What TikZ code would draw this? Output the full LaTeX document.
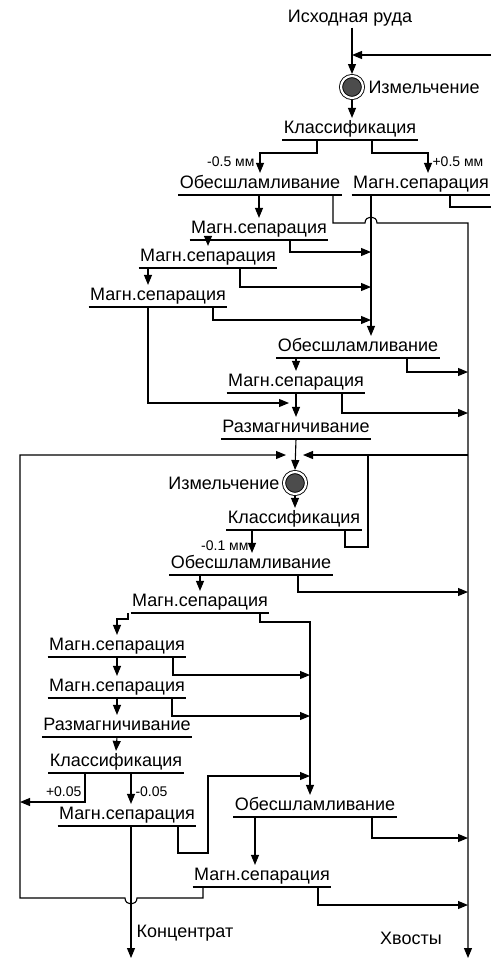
\documentclass[tikz,border=0pt]{standalone}
\usepackage{fontspec}
\setmainfont{Liberation Sans}
\usetikzlibrary{arrows.meta,positioning}

\begin{document}
\begin{tikzpicture}[->,>={Triangle[length=10pt,width=8pt]},x=1pt,y=-1pt,line width=1.1pt,
                    text node/.style={font=\fontsize{18}{21}\selectfont,inner sep=1pt},
                    size label/.style={font=\fontsize{14}{16}\selectfont,inner sep=1pt},
                    proc node/.style={text node,anchor=south,inner ysep=2pt,text height=13pt,text depth=4pt,
                      append after command={(\tikzlastnode.south west) edge[-,line width=1.5pt] (\tikzlastnode.south east)}},
                    mill node/.style={circle,draw,double,double distance=2.2pt,fill=black!70,
                      minimum size=22pt,inner sep=0pt,line width=0.9pt,outer sep=2pt}]

  \useasboundingbox (0,0) rectangle (491,964);
  \clip (0,0) rectangle (491,964);

  % first stage
  \node[text node] (A) at (350,18) {Исходная руда};
  \node[mill node] (1) at (352,87) {};
  \node[text node,right=2pt of 1] (B) {Измельчение};
  \node[proc node] (2) at (350,140) {Классификация};
  \node[proc node] (3) at (260,195) {Обесшламливание};
  \node[proc node] (4) at (421,195) {Магн.сепарация};
  \node[proc node] (5) at (259,240) {Магн.сепарация};
  \node[proc node] (6) at (208,268) {Магн.сепарация};
  \node[proc node] (7) at (158,307) {Магн.сепарация};
  \node[proc node] (8) at (358,358) {Обесшламливание};
  \node[proc node] (9) at (296,393) {Магн.сепарация};
  \node[proc node] (10) at (296,439) {Размагничивание};

  % second stage
  \node[mill node] (11) at (295,483) {};
  \node[text node,left=1pt of 11] (C) {Измельчение};
  \node[proc node] (12) at (294,530) {Классификация};
  \node[proc node] (13) at (251,575) {Обесшламливание};
  \node[proc node] (14) at (200,613) {Магн.сепарация};
  \node[proc node] (15) at (117,657) {Магн.сепарация};
  \node[proc node] (16) at (117,698) {Магн.сепарация};
  \node[proc node] (17) at (117,737) {Размагничивание};
  \node[proc node] (18) at (116,773) {Классификация};
  \node[proc node] (19) at (127,826) {Магн.сепарация};
  \node[proc node] (20) at (315,817) {Обесшламливание};
  \node[proc node] (21) at (262,887) {Магн.сепарация};

  \node[size label,anchor=north east] (D) at (256,155) {-0.5 мм};
  \node[size label,anchor=north west] (E) at (431,155) {+0.5 мм};
  \node[size label,anchor=east] (F) at (250,546) {-0.1 мм};
  \node[size label,anchor=east] (G) at (83,792) {+0.05};
  \node[size label,anchor=west] (H) at (134,792) {-0.05};
  \node[text node] (K) at (185,933) {Концентрат};
  \node[text node] (L) at (411,938) {Хвосты};

  \coordinate (R1) at (491,55);
  \coordinate (R2) at (491,207);
  \coordinate (C1) at (371,0);
  \coordinate (C2) at (310,0);
  \coordinate (T1) at (468,223);
  \coordinate (T2) at (468,958);
  \coordinate (J) at (295,455);
  \coordinate (L2) at (20,898);
  \coordinate (K1) at (131,958);

  % first stage flows
  \draw (A.south -| 1) -- (1.north);
  \draw (R1) -- (R1 -| 1);
  \path (1) edge (2.north -| 1);
  \draw (2.south -| 317,0) -- ++(0,13) -| (3.north);
  \draw (2.south -| 372,0) -- ++(0,13) -| (4.north -| 428,0);
  \draw (3.south -| 333,0) -- ++(0,28) -- (365,223) .. controls (365,215) and (377,215) .. (377,223) -- (T1) -- (T2);
  \draw (4.south -| C1) -- (8.north -| C1);
  \draw[-] (4.south -| 450,0) -- ++(0,12) -- (R2);
  \path (3.south -| 5.north) edge (5.north)
        (5.south -| 6.north) edge (6.north)
        (6.south -| 148,0) edge (7.north -| 148,0)
        (8.south -| 9.north) edge (9.north)
        (9.south) edge (10.north)
        (10.south) edge (11.north);
  \draw (5.south -| 290,0) |- ([yshift=-12pt]5.south -| C1);
  \draw (6.south -| 240,0) |- ([yshift=-19pt]6.south -| C1);
  \draw (7.south -| 213,0) |- ([yshift=-13pt]7.south -| C1);
  \draw (7.south -| 148,0) |- ([yshift=-96pt]7.south -| 289,0);
  \draw (8.south -| 407,0) |- ([yshift=-14pt]8.south -| T1);
  \draw (9.south -| 342,0) |- ([yshift=-20pt]9.south -| T1);

  % second stage flows
  \draw (J -| T1) -- ([xshift=8pt]J);
  \path (11) edge (12.north -| 11)
        (12.south -| 252,0) edge (13.north -| 252,0)
        (13.south -| 200,0) edge (14.north -| 200,0)
        (15.south) edge (16.north)
        (16.south) edge (17.north)
        (17.south) edge (18.north)
        (18.south -| K1) edge (19.north -| K1)
        (20.south -| 255,0) edge (21.north -| 255,0);
  \draw[-] (12.south -| 345,0) -- ++(0,17) -| (J -| 368,0);
  \draw (13.south -| 298,0) |- ([yshift=-17pt]13.south -| T1);
  \draw (14.south -| 128,0) -- ++(0,6) -| (15.north);
  \draw (14.south -| 260,0) -- ++(0,9) -| (20.north -| C2);
  \draw (15.south -| 173,0) |- ([yshift=-18pt]15.south -| C2);
  \draw (16.south -| 172,0) |- ([yshift=-18pt]16.south -| C2);
  \draw (18.south -| 85,0) |- ([yshift=-29pt]18.south -| L2);
  \draw (19.south -| K1) -- (K1);
  \draw (19.south -| 178,0) -- ++(0,27) -| ([yshift=-3pt]18.south -| 208,0) -- ([yshift=-3pt]18.south -| C2);
  \draw (20.south -| 372,0) |- ([yshift=-21pt]20.south -| T1);
  \draw (21.south -| 318,0) |- ([yshift=-18pt]21.south -| T1);
  \draw (21.south -| 203,0) -- ++(0,11) -- (137,898) .. controls (137,906) and (125,906) .. (125,898) -- (L2) -- (J -| L2) -- ([xshift=-9pt]J);
\end{tikzpicture}
\end{document}
